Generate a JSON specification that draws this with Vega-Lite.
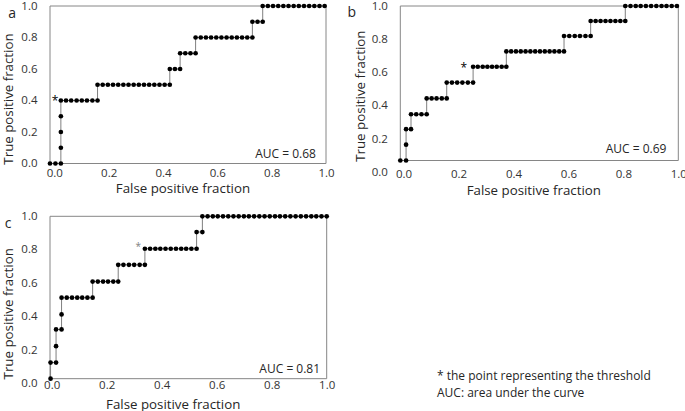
{
  "$schema": "https://vega.github.io/schema/vega-lite/v6.json",
  "padding": {"left": 1, "top": 0, "right": 0, "bottom": 0},
  "background": "white",
  "datasets": {
    "a": [
      {"i":1,"x":-0.016,"y":0},{"i":2,"x":0.004,"y":0},{"i":3,"x":0.024,"y":0},
      {"i":4,"x":0.024,"y":0.1},{"i":5,"x":0.024,"y":0.2},{"i":6,"x":0.024,"y":0.3},
      {"i":7,"x":0.024,"y":0.4},{"i":8,"x":0.043,"y":0.4},{"i":9,"x":0.062,"y":0.4},{"i":10,"x":0.082,"y":0.4},{"i":11,"x":0.101,"y":0.4},{"i":12,"x":0.120,"y":0.4},{"i":13,"x":0.140,"y":0.4},{"i":14,"x":0.159,"y":0.4},
      {"i":15,"x":0.159,"y":0.5},{"i":16,"x":0.178,"y":0.5},{"i":17,"x":0.197,"y":0.5},{"i":18,"x":0.216,"y":0.5},{"i":19,"x":0.235,"y":0.5},{"i":20,"x":0.254,"y":0.5},{"i":21,"x":0.273,"y":0.5},{"i":22,"x":0.292,"y":0.5},{"i":23,"x":0.311,"y":0.5},{"i":24,"x":0.330,"y":0.5},{"i":25,"x":0.349,"y":0.5},{"i":26,"x":0.368,"y":0.5},{"i":27,"x":0.387,"y":0.5},{"i":28,"x":0.406,"y":0.5},{"i":29,"x":0.425,"y":0.5},
      {"i":30,"x":0.425,"y":0.6},{"i":31,"x":0.444,"y":0.6},{"i":32,"x":0.463,"y":0.6},
      {"i":33,"x":0.463,"y":0.7},{"i":34,"x":0.482,"y":0.7},{"i":35,"x":0.501,"y":0.7},{"i":36,"x":0.520,"y":0.7},
      {"i":37,"x":0.520,"y":0.8},{"i":38,"x":0.539,"y":0.8},{"i":39,"x":0.558,"y":0.8},{"i":40,"x":0.577,"y":0.8},{"i":41,"x":0.596,"y":0.8},{"i":42,"x":0.615,"y":0.8},{"i":43,"x":0.634,"y":0.8},{"i":44,"x":0.653,"y":0.8},{"i":45,"x":0.672,"y":0.8},{"i":46,"x":0.691,"y":0.8},{"i":47,"x":0.710,"y":0.8},{"i":48,"x":0.729,"y":0.8},
      {"i":49,"x":0.729,"y":0.9},{"i":50,"x":0.748,"y":0.9},{"i":51,"x":0.767,"y":0.9},
      {"i":52,"x":0.767,"y":1.0},{"i":53,"x":0.786,"y":1.0},{"i":54,"x":0.805,"y":1.0},{"i":55,"x":0.824,"y":1.0},{"i":56,"x":0.843,"y":1.0},{"i":57,"x":0.862,"y":1.0},{"i":58,"x":0.881,"y":1.0},{"i":59,"x":0.900,"y":1.0},{"i":60,"x":0.919,"y":1.0},{"i":61,"x":0.938,"y":1.0},{"i":62,"x":0.957,"y":1.0},{"i":63,"x":0.976,"y":1.0},{"i":64,"x":0.995,"y":1.0}
    ],
    "b": [
      {"i":1,"x":-0.012,"y":0.072},{"i":2,"x":0.009,"y":0.072},
      {"i":3,"x":0.009,"y":0.167},
      {"i":4,"x":0.009,"y":0.26},{"i":5,"x":0.027,"y":0.26},
      {"i":6,"x":0.027,"y":0.35},{"i":7,"x":0.046,"y":0.35},{"i":8,"x":0.065,"y":0.35},{"i":9,"x":0.084,"y":0.35},
      {"i":10,"x":0.084,"y":0.445},{"i":11,"x":0.102,"y":0.445},{"i":12,"x":0.120,"y":0.445},{"i":13,"x":0.139,"y":0.445},{"i":14,"x":0.157,"y":0.445},
      {"i":15,"x":0.157,"y":0.54},{"i":16,"x":0.176,"y":0.54},{"i":17,"x":0.195,"y":0.54},{"i":18,"x":0.214,"y":0.54},{"i":19,"x":0.234,"y":0.54},{"i":20,"x":0.253,"y":0.54},
      {"i":21,"x":0.253,"y":0.635},{"i":22,"x":0.270,"y":0.635},{"i":23,"x":0.288,"y":0.635},{"i":24,"x":0.305,"y":0.635},{"i":25,"x":0.322,"y":0.635},{"i":26,"x":0.339,"y":0.635},{"i":27,"x":0.357,"y":0.635},{"i":28,"x":0.374,"y":0.635},
      {"i":29,"x":0.374,"y":0.727},{"i":30,"x":0.3915,"y":0.727},{"i":31,"x":0.409,"y":0.727},{"i":32,"x":0.4265,"y":0.727},{"i":33,"x":0.444,"y":0.727},{"i":34,"x":0.4615,"y":0.727},{"i":35,"x":0.479,"y":0.727},{"i":36,"x":0.4965,"y":0.727},{"i":37,"x":0.514,"y":0.727},{"i":38,"x":0.5315,"y":0.727},{"i":39,"x":0.549,"y":0.727},{"i":40,"x":0.5665,"y":0.727},{"i":41,"x":0.584,"y":0.727},
      {"i":42,"x":0.584,"y":0.82},{"i":43,"x":0.603,"y":0.82},{"i":44,"x":0.623,"y":0.82},{"i":45,"x":0.642,"y":0.82},{"i":46,"x":0.662,"y":0.82},{"i":47,"x":0.681,"y":0.82},
      {"i":48,"x":0.681,"y":0.91},{"i":49,"x":0.699,"y":0.91},{"i":50,"x":0.717,"y":0.91},{"i":51,"x":0.735,"y":0.91},{"i":52,"x":0.753,"y":0.91},{"i":53,"x":0.771,"y":0.91},{"i":54,"x":0.789,"y":0.91},{"i":55,"x":0.807,"y":0.91},
      {"i":56,"x":0.807,"y":1.0},{"i":57,"x":0.826,"y":1.0},{"i":58,"x":0.845,"y":1.0},{"i":59,"x":0.863,"y":1.0},{"i":60,"x":0.882,"y":1.0},{"i":61,"x":0.901,"y":1.0},{"i":62,"x":0.920,"y":1.0},{"i":63,"x":0.939,"y":1.0},{"i":64,"x":0.957,"y":1.0},{"i":65,"x":0.976,"y":1.0},{"i":66,"x":0.995,"y":1.0}
    ],
    "c": [
      {"i":1,"x":-0.004,"y":0.03},
      {"i":2,"x":-0.004,"y":0.126},{"i":3,"x":0.016,"y":0.126},
      {"i":4,"x":0.016,"y":0.224},
      {"i":5,"x":0.016,"y":0.324},{"i":6,"x":0.036,"y":0.324},
      {"i":7,"x":0.036,"y":0.414},
      {"i":8,"x":0.036,"y":0.514},{"i":9,"x":0.055,"y":0.514},{"i":10,"x":0.074,"y":0.514},{"i":11,"x":0.093,"y":0.514},{"i":12,"x":0.111,"y":0.514},{"i":13,"x":0.130,"y":0.514},{"i":14,"x":0.149,"y":0.514},
      {"i":15,"x":0.149,"y":0.61},{"i":16,"x":0.168,"y":0.61},{"i":17,"x":0.187,"y":0.61},{"i":18,"x":0.205,"y":0.61},{"i":19,"x":0.224,"y":0.61},{"i":20,"x":0.242,"y":0.61},
      {"i":21,"x":0.242,"y":0.71},{"i":22,"x":0.261,"y":0.71},{"i":23,"x":0.281,"y":0.71},{"i":24,"x":0.300,"y":0.71},{"i":25,"x":0.320,"y":0.71},{"i":26,"x":0.339,"y":0.71},
      {"i":27,"x":0.339,"y":0.806},{"i":28,"x":0.358,"y":0.806},{"i":29,"x":0.377,"y":0.806},{"i":30,"x":0.395,"y":0.806},{"i":31,"x":0.414,"y":0.806},{"i":32,"x":0.433,"y":0.806},{"i":33,"x":0.452,"y":0.806},{"i":34,"x":0.471,"y":0.806},{"i":35,"x":0.489,"y":0.806},{"i":36,"x":0.508,"y":0.806},{"i":37,"x":0.527,"y":0.806},
      {"i":38,"x":0.527,"y":0.906},{"i":39,"x":0.548,"y":0.906},
      {"i":40,"x":0.548,"y":1.0},{"i":41,"x":0.567,"y":1.0},{"i":42,"x":0.586,"y":1.0},{"i":43,"x":0.604,"y":1.0},{"i":44,"x":0.623,"y":1.0},{"i":45,"x":0.642,"y":1.0},{"i":46,"x":0.661,"y":1.0},{"i":47,"x":0.680,"y":1.0},{"i":48,"x":0.699,"y":1.0},{"i":49,"x":0.717,"y":1.0},{"i":50,"x":0.736,"y":1.0},{"i":51,"x":0.755,"y":1.0},{"i":52,"x":0.774,"y":1.0},{"i":53,"x":0.793,"y":1.0},{"i":54,"x":0.812,"y":1.0},{"i":55,"x":0.830,"y":1.0},{"i":56,"x":0.849,"y":1.0},{"i":57,"x":0.868,"y":1.0},{"i":58,"x":0.887,"y":1.0},{"i":59,"x":0.906,"y":1.0},{"i":60,"x":0.925,"y":1.0},{"i":61,"x":0.944,"y":1.0},{"i":62,"x":0.962,"y":1.0},{"i":63,"x":0.981,"y":1.0},{"i":64,"x":1.0,"y":1.0}
    ],
    "one": [{"n": 1}]
  },
  "columns": 2,
  "bounds": "flush",
  "spacing": {"column": 73.3, "row": 43.3},
  "concat": [
    {
      "width": 276, "height": 157.5,
      "layer": [
        {"data": {"name": "a"}, "mark": {"type": "line", "color": "#7f7f7f", "strokeWidth": 1},
         "encoding": {
           "x": {"field": "x", "type": "quantitative", "scale": {"domain": [-0.016, 1.0], "nice": false, "zero": false},
                 "axis": {"values": [0,0.2,0.4,0.6,0.8,1.0], "tickCount": 12, "format": ".1f", "labelOverlap": false, "labelPadding": 3.8, "title": "False positive fraction", "titleX": 132.5, "titleY": 29, "titleBaseline": "alphabetic"}},
           "y": {"field": "y", "type": "quantitative", "scale": {"domain": [0, 1.0], "nice": false, "zero": false},
                 "axis": {"values": [0,0.2,0.4,0.6,0.8,1.0], "tickCount": 12, "format": ".1f", "labelOverlap": false, "labelPadding": 13, "title": "True positive fraction", "titleX": -42, "titleY": 92.5, "titleBaseline": "middle"}},
           "order": {"field": "i", "type": "quantitative"}}},
        {"data": {"name": "one"}, "mark": {"type": "rect", "fill": "transparent", "stroke": "#868686", "strokeWidth": 1},
         "encoding": {"x": {"datum": -0.016}, "x2": {"datum": 1.0}, "y": {"datum": 0}, "y2": {"datum": 1.0}}},
        {"data": {"name": "a"}, "mark": {"type": "point", "filled": true, "color": "#000000", "size": 22, "opacity": 1},
         "encoding": {"x": {"field": "x", "type": "quantitative"}, "y": {"field": "y", "type": "quantitative"}}},
        {"data": {"name": "one"}, "mark": {"type": "text", "text": "*", "fontSize": 12, "fill": "#000000", "align": "center", "baseline": "middle"},
         "encoding": {"x": {"datum": 0.003}, "y": {"datum": 0.397}}},
        {"data": {"name": "one"}, "mark": {"type": "text", "text": "AUC = 0.68", "fontSize": 12, "fill": "#262626", "align": "right", "baseline": "middle"},
         "encoding": {"x": {"datum": 0.963}, "y": {"datum": 0.06}}},
        {"data": {"name": "one"}, "mark": {"type": "text", "text": "a", "fontSize": 14, "fill": "#262626", "align": "center", "baseline": "middle"},
         "encoding": {"x": {"datum": -0.155}, "y": {"datum": 0.95}}}
      ]
    },
    {
      "width": 278, "height": 166.5,
      "layer": [
        {"data": {"name": "b"}, "mark": {"type": "line", "color": "#7f7f7f", "strokeWidth": 1},
         "encoding": {
           "x": {"field": "x", "type": "quantitative", "scale": {"domain": [-0.012, 1.0], "nice": false, "zero": false},
                 "axis": {"values": [0,0.2,0.4,0.6,0.8,1.0], "tickCount": 12, "format": ".1f", "labelOverlap": false, "labelPadding": -4, "title": "False positive fraction", "titleX": 133, "titleY": 22, "titleBaseline": "alphabetic"}},
           "y": {"field": "y", "type": "quantitative", "scale": {"domain": [0, 1.0], "nice": false, "zero": false},
                 "axis": {"values": [0,0.2,0.4,0.6,0.8,1.0], "tickCount": 12, "format": ".1f", "labelOverlap": false, "labelPadding": 13, "title": "True positive fraction", "titleX": -40, "titleY": 89.7, "titleBaseline": "middle"}},
           "order": {"field": "i", "type": "quantitative"}}},
        {"data": {"name": "one"}, "mark": {"type": "rect", "fill": "transparent", "stroke": "#868686", "strokeWidth": 1},
         "encoding": {"x": {"datum": -0.012}, "x2": {"datum": 1.0}, "y": {"datum": 0.072}, "y2": {"datum": 1.0}}},
        {"data": {"name": "b"}, "mark": {"type": "point", "filled": true, "color": "#000000", "size": 22, "opacity": 1},
         "encoding": {"x": {"field": "x", "type": "quantitative"}, "y": {"field": "y", "type": "quantitative"}}},
        {"data": {"name": "one"}, "mark": {"type": "text", "text": "*", "fontSize": 12, "fill": "#000000", "align": "center", "baseline": "middle"},
         "encoding": {"x": {"datum": 0.219}, "y": {"datum": 0.625}}},
        {"data": {"name": "one"}, "mark": {"type": "text", "text": "AUC = 0.69", "fontSize": 12, "fill": "#262626", "align": "right", "baseline": "middle"},
         "encoding": {"x": {"datum": 0.957}, "y": {"datum": 0.144}}},
        {"data": {"name": "one"}, "mark": {"type": "text", "text": "b", "fontSize": 14, "fill": "#262626", "align": "center", "baseline": "middle"},
         "encoding": {"x": {"datum": -0.189}, "y": {"datum": 0.955}}}
      ]
    },
    {
      "width": 276.7, "height": 167.4,
      "layer": [
        {"data": {"name": "c"}, "mark": {"type": "line", "color": "#7f7f7f", "strokeWidth": 1},
         "encoding": {
           "x": {"field": "x", "type": "quantitative", "scale": {"domain": [-0.006, 1.0], "nice": false, "zero": false},
                 "axis": {"values": [0,0.2,0.4,0.6,0.8,1.0], "tickCount": 12, "format": ".1f", "labelOverlap": false, "labelPadding": -4.7, "title": "False positive fraction", "titleX": 122.7, "titleY": 25, "titleBaseline": "alphabetic"}},
           "y": {"field": "y", "type": "quantitative", "scale": {"domain": [0, 1.0], "nice": false, "zero": false},
                 "axis": {"values": [0,0.2,0.4,0.6,0.8,1.0], "tickCount": 12, "format": ".1f", "labelOverlap": false, "labelPadding": 13, "title": "True positive fraction", "titleX": -42, "titleY": 97, "titleBaseline": "middle"}},
           "order": {"field": "i", "type": "quantitative"}}},
        {"data": {"name": "one"}, "mark": {"type": "rect", "fill": "transparent", "stroke": "#868686", "strokeWidth": 1},
         "encoding": {"x": {"datum": -0.006}, "x2": {"datum": 1.0}, "y": {"datum": 0.03}, "y2": {"datum": 1.0}}},
        {"data": {"name": "c"}, "mark": {"type": "point", "filled": true, "color": "#000000", "size": 22, "opacity": 1},
         "encoding": {"x": {"field": "x", "type": "quantitative"}, "y": {"field": "y", "type": "quantitative"}}},
        {"data": {"name": "one"}, "mark": {"type": "text", "text": "*", "fontSize": 10, "fill": "#808080", "align": "center", "baseline": "middle"},
         "encoding": {"x": {"datum": 0.315}, "y": {"datum": 0.815}}},
        {"data": {"name": "one"}, "mark": {"type": "text", "text": "AUC = 0.81", "fontSize": 12, "fill": "#262626", "align": "right", "baseline": "middle"},
         "encoding": {"x": {"datum": 0.976}, "y": {"datum": 0.088}}},
        {"data": {"name": "one"}, "mark": {"type": "text", "text": "c", "fontSize": 14, "fill": "#262626", "align": "center", "baseline": "middle"},
         "encoding": {"x": {"datum": -0.158}, "y": {"datum": 0.955}}},
        {"data": {"name": "one"}, "mark": {"type": "text", "text": "* the point representing the threshold", "fontSize": 12, "fill": "#262626", "align": "left", "baseline": "middle"},
         "encoding": {"x": {"datum": 1.401}, "y": {"datum": 0.046}}},
        {"data": {"name": "one"}, "mark": {"type": "text", "text": "AUC: area under the curve", "fontSize": 12, "fill": "#262626", "align": "left", "baseline": "middle"},
         "encoding": {"x": {"datum": 1.401}, "y": {"datum": -0.056}}}
      ]
    }
  ],
  "config": {
    "view": {"stroke": null},
    "font": "Open Sans",
    "text": {"font": "Open Sans", "fontWeight": "normal"},
    "axis": {
      "domain": false, "ticks": false, "tickSize": 0, "grid": false, "labelFlush": false, "labelOverlap": false,
      "labelFont": "Open Sans", "labelFontSize": 11.5, "labelColor": "#333333",
      "titleFont": "Open Sans", "titleFontSize": 13.3, "titleFontWeight": "normal", "titleColor": "#262626"
    }
  }
}
